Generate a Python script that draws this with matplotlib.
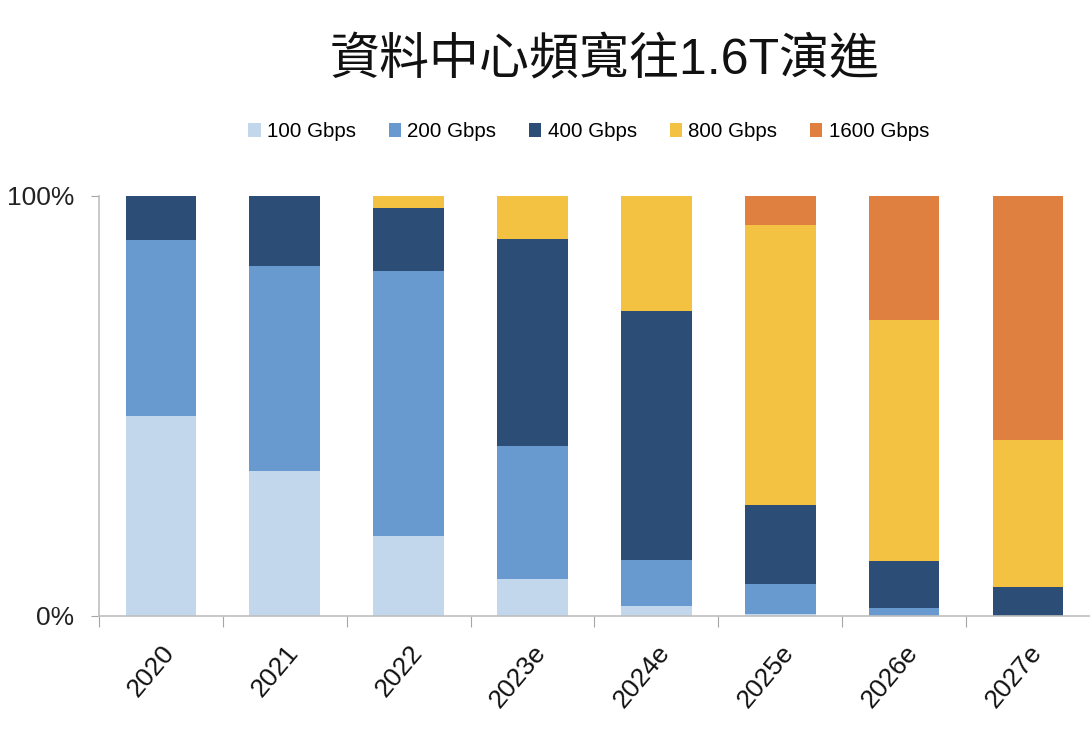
import numpy as np
import matplotlib
matplotlib.use("Agg")
import matplotlib.pyplot as plt

plt.rcParams['font.family'] = ['Liberation Sans', 'Noto Sans CJK TC', 'DejaVu Sans']

years = ['2020', '2021', '2022', '2023e', '2024e', '2025e', '2026e', '2027e']
series_names = ['100 Gbps', '200 Gbps', '400 Gbps', '800 Gbps', '1600 Gbps']
colors = ['#c2d6ec', '#6899cf', '#2c4d75', '#f4c242', '#e08040']

# share of ports, percent
g100 = [47.6, 34.5, 19.0, 8.8, 2.4, 0.5, 0.0, 0.0]
g200 = [41.9, 48.8, 63.1, 31.7, 10.9, 7.1, 1.9, 0.0]
g400 = [10.5, 16.7, 15.0, 49.3, 59.3, 18.8, 11.2, 6.9]
g800 = [0.0, 0.0, 2.9, 10.2, 27.4, 66.7, 57.4, 35.0]
g1600 = [0.0, 0.0, 0.0, 0.0, 0.0, 6.9, 29.5, 58.1]

data = [g100, g200, g400, g800, g1600]

fig = plt.figure(figsize=(10.9, 7.4), dpi=100)
ax = fig.add_axes([0.0908, 0.1676, 0.9092, 0.5676])

x = np.arange(len(years))
bottom = np.zeros(len(years))
for vals, name, c in zip(data, series_names, colors):
    vals = np.array(vals)
    ax.bar(x, vals, 0.57, bottom=bottom, color=c, label=name)
    bottom += vals

ax.set_xlim(-0.5, len(years) - 0.5)
ax.set_ylim(0, 100)
ax.set_yticks([0, 100])
ax.set_yticklabels(['0%', '100%'], fontsize=19, color='#222222')
ax.set_xticks(x - 0.5, minor=False)
ax.set_xticklabels([])
ax.set_xticks(x, minor=True)
ax.set_xticklabels(years, minor=True, rotation=50, ha='right', va='top',
                   rotation_mode='anchor', fontsize=19, color='#111111')
ax.tick_params(axis='x', which='minor', length=0, pad=18)
ax.tick_params(axis='x', which='major', length=8, color='#a6a6a6', direction='out')
ax.tick_params(axis='y', length=6, color='#a6a6a6', pad=12)

for s in ['top', 'right']:
    ax.spines[s].set_visible(False)
for s in ['left', 'bottom']:
    ax.spines[s].set_color('#bfbfbf')
    ax.spines[s].set_linewidth(1.2)

fig.text(0.555, 0.918, '資料中心頻寬往1.6T演進', ha='center', va='center',
         fontsize=36, color='#111111')

fig.legend(loc='center', bbox_to_anchor=(0.54, 0.822), ncol=5, frameon=False,
           fontsize=14.8, handlelength=0.6, handleheight=0.6, handletextpad=0.3,
           columnspacing=1.6)

fig.savefig('out.png', dpi=100)
